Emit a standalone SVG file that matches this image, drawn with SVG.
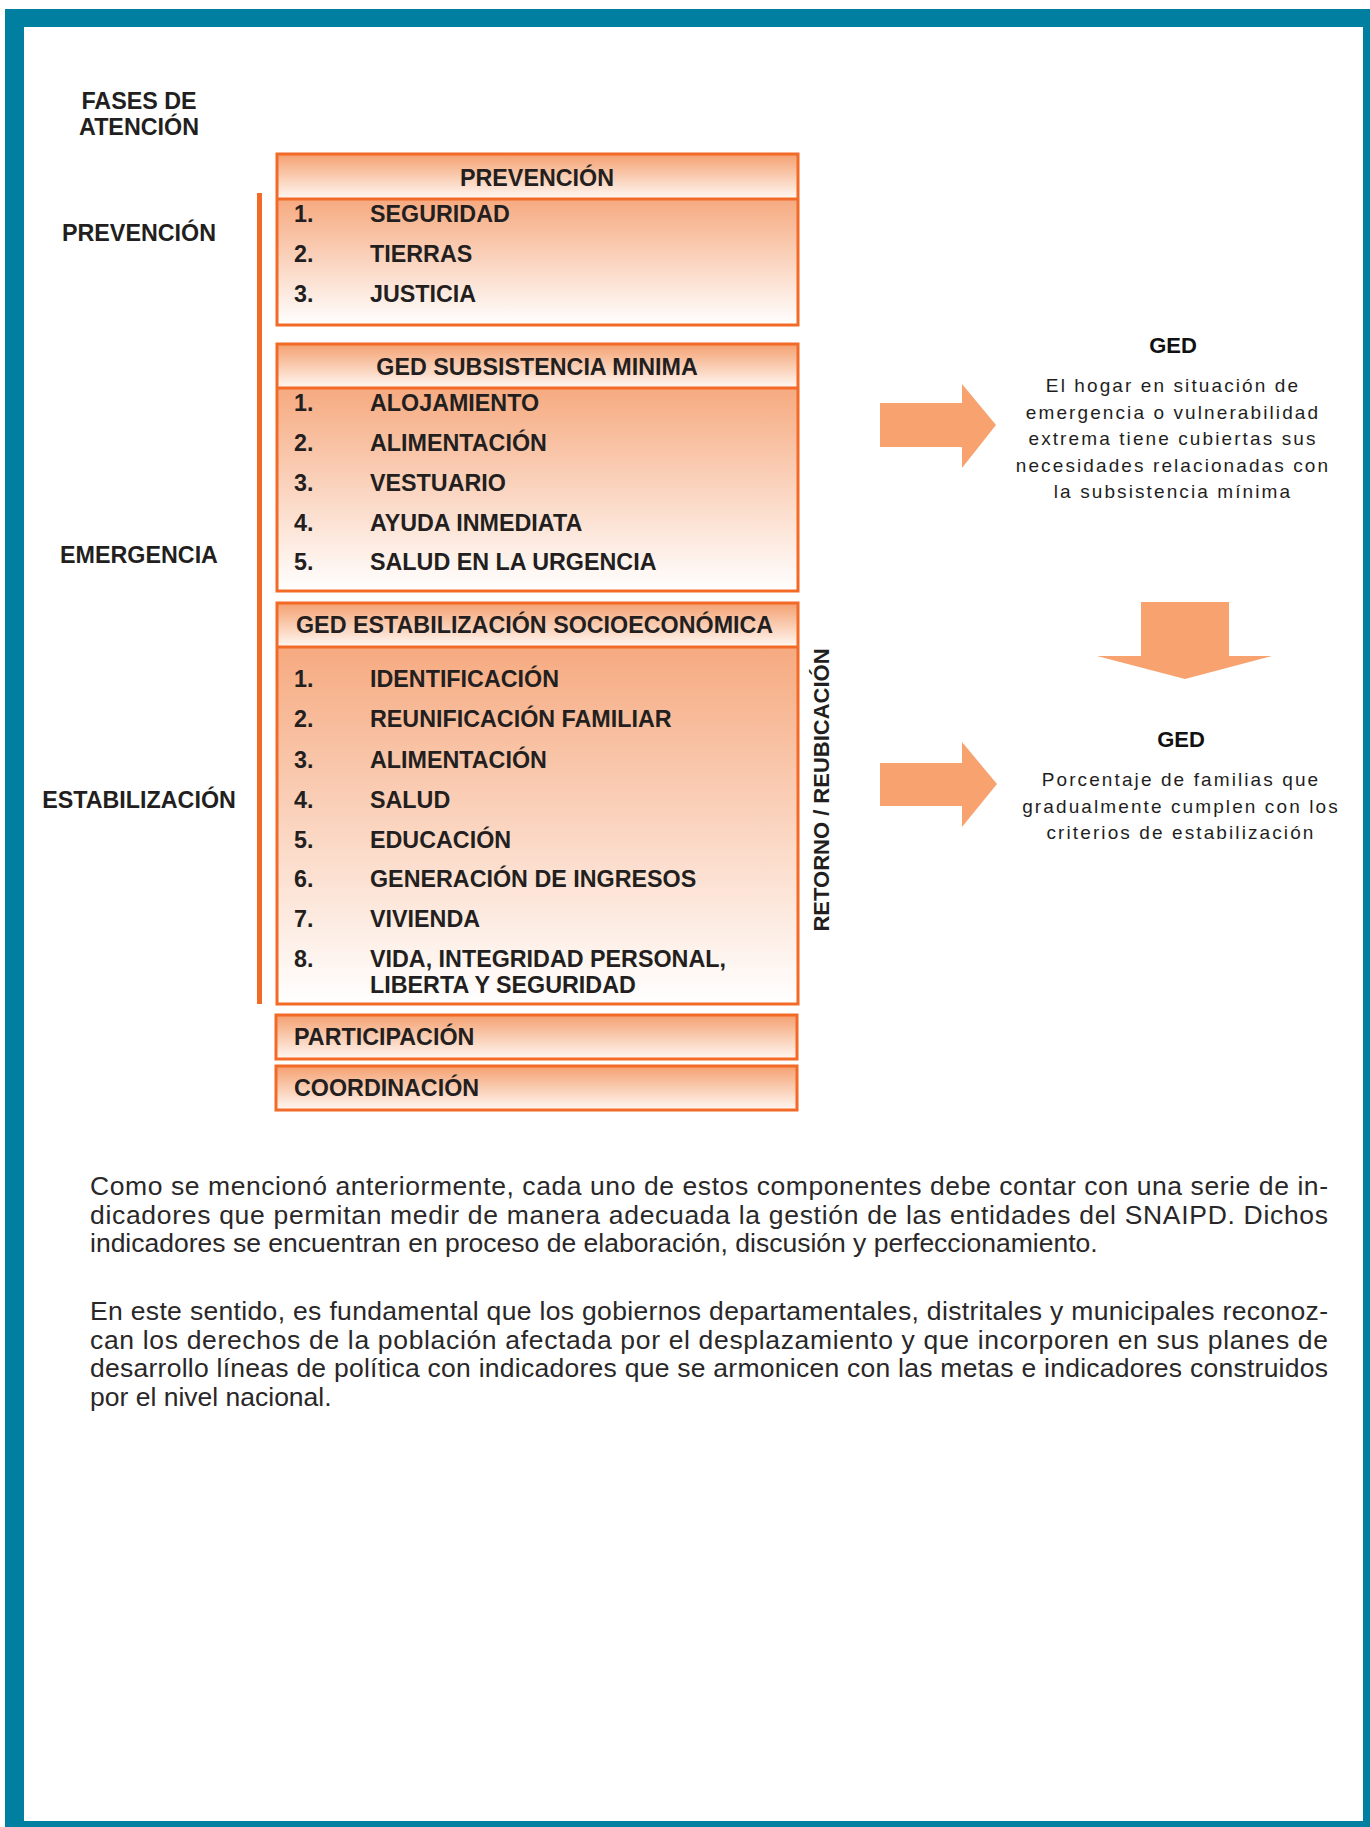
<svg xmlns="http://www.w3.org/2000/svg" width="1370" height="1827" viewBox="0 0 1370 1827">
<defs>
<linearGradient id="gh" x1="0" y1="0" x2="0" y2="1">
<stop offset="0" stop-color="#F4A070"/>
<stop offset="1" stop-color="#FFF8F3"/>
</linearGradient>
<linearGradient id="gi" x1="0" y1="0" x2="0" y2="1">
<stop offset="0" stop-color="#F6AA80"/>
<stop offset="1" stop-color="#FFFFFF"/>
</linearGradient>
<style>
.box{fill:none;stroke:#F26A26;stroke-width:3}
.div{stroke:#F26A26;stroke-width:3}
.b{font-family:"Liberation Sans",Arial,sans-serif;font-weight:bold;font-size:23.3px;fill:#231F20}
.hd{font-family:"Liberation Sans",Arial,sans-serif;font-weight:bold;font-size:22px;fill:#111}
.r{font-family:"Liberation Sans",Arial,sans-serif;font-size:19px;letter-spacing:2.1px;fill:#1E1E1E}
.p{font-family:"Liberation Sans",Arial,sans-serif;font-size:26.5px;fill:#2A2728}
.arr{fill:#F8A26F}
</style>
</defs>
<rect x="0" y="0" width="1370" height="1827" fill="#FFFFFF"/>
<rect x="5" y="9" width="1365" height="1818" fill="#017FA0"/>
<rect x="24" y="27" width="1339" height="1794" fill="#FFFFFF"/>

<g id="fases-label">
<text class="b" x="139" y="109" text-anchor="middle">FASES DE</text>
<text class="b" x="139" y="135" text-anchor="middle">ATENCIÓN</text>
</g>
<g id="phase-prevencion"><text class="b" x="139" y="241" text-anchor="middle">PREVENCIÓN</text></g>
<g id="phase-emergencia"><text class="b" x="139" y="563" text-anchor="middle">EMERGENCIA</text></g>
<g id="phase-estabilizacion"><text class="b" x="139" y="808" text-anchor="middle">ESTABILIZACIÓN</text></g>

<g id="phase-line"><rect x="257" y="193" width="5" height="811" fill="#F26A26"/></g>

<g id="box-prevencion">
<rect x="277" y="154" width="521" height="45" fill="url(#gh)"/>
<rect x="277" y="199" width="521" height="126" fill="url(#gi)"/>
<rect class="box" x="277" y="154" width="521" height="171"/>
<line class="div" x1="277" y1="199" x2="798" y2="199"/>
<text class="b" x="537" y="186" text-anchor="middle">PREVENCIÓN</text>
<text class="b" x="294" y="222">1.</text><text class="b" x="370" y="222">SEGURIDAD</text>
<text class="b" x="294" y="262">2.</text><text class="b" x="370" y="262">TIERRAS</text>
<text class="b" x="294" y="302">3.</text><text class="b" x="370" y="302">JUSTICIA</text>
</g>

<g id="box-subsistencia">
<rect x="277" y="344" width="521" height="44" fill="url(#gh)"/>
<rect x="277" y="388" width="521" height="203" fill="url(#gi)"/>
<rect class="box" x="277" y="344" width="521" height="247"/>
<line class="div" x1="277" y1="388" x2="798" y2="388"/>
<text class="b" x="537" y="375" text-anchor="middle">GED SUBSISTENCIA MINIMA</text>
<text class="b" x="294" y="411">1.</text><text class="b" x="370" y="411">ALOJAMIENTO</text>
<text class="b" x="294" y="451">2.</text><text class="b" x="370" y="451">ALIMENTACIÓN</text>
<text class="b" x="294" y="491">3.</text><text class="b" x="370" y="491">VESTUARIO</text>
<text class="b" x="294" y="531">4.</text><text class="b" x="370" y="531">AYUDA INMEDIATA</text>
<text class="b" x="294" y="570">5.</text><text class="b" x="370" y="570">SALUD EN LA URGENCIA</text>
</g>

<g id="box-estabilizacion">
<rect x="277" y="603" width="521" height="44" fill="url(#gh)"/>
<rect x="277" y="647" width="521" height="357" fill="url(#gi)"/>
<rect class="box" x="277" y="603" width="521" height="401"/>
<line class="div" x1="277" y1="647" x2="798" y2="647"/>
<text class="b" x="296" y="633">GED ESTABILIZACIÓN SOCIOECONÓMICA</text>
<text class="b" x="294" y="687">1.</text><text class="b" x="370" y="687">IDENTIFICACIÓN</text>
<text class="b" x="294" y="727">2.</text><text class="b" x="370" y="727">REUNIFICACIÓN FAMILIAR</text>
<text class="b" x="294" y="768">3.</text><text class="b" x="370" y="768">ALIMENTACIÓN</text>
<text class="b" x="294" y="808">4.</text><text class="b" x="370" y="808">SALUD</text>
<text class="b" x="294" y="848">5.</text><text class="b" x="370" y="848">EDUCACIÓN</text>
<text class="b" x="294" y="887">6.</text><text class="b" x="370" y="887">GENERACIÓN DE INGRESOS</text>
<text class="b" x="294" y="927">7.</text><text class="b" x="370" y="927">VIVIENDA</text>
<text class="b" x="294" y="967">8.</text><text class="b" x="370" y="967">VIDA, INTEGRIDAD PERSONAL,</text>
<text class="b" x="370" y="993">LIBERTA Y SEGURIDAD</text>
</g>

<g id="box-participacion">
<rect x="276" y="1015" width="521" height="44" fill="url(#gh)"/>
<rect class="box" x="276" y="1015" width="521" height="44"/>
<text class="b" x="294" y="1045">PARTICIPACIÓN</text>
</g>
<g id="box-coordinacion">
<rect x="276" y="1066" width="521" height="44" fill="url(#gh)"/>
<rect class="box" x="276" y="1066" width="521" height="44"/>
<text class="b" x="294" y="1096">COORDINACIÓN</text>
</g>

<g id="retorno-label">
<text class="b" transform="translate(829,790) rotate(-90)" text-anchor="middle" style="font-size:22px">RETORNO / REUBICACIÓN</text>
</g>

<g id="connectors">
<polygon class="arr" points="880,403 962,403 962,384 996,425 962,468 962,447 880,447"/>
<polygon class="arr" points="1141,602 1229,602 1229,656 1272,656 1185,679 1097,656 1141,656"/>
<polygon class="arr" points="880,763 962,763 962,742 997,784 962,827 962,806 880,806"/>
</g>

<g id="ged-1">
<text class="hd" x="1173" y="353" text-anchor="middle">GED</text>
<text class="r" x="1173" y="392" text-anchor="middle">El hogar en situación de</text>
<text class="r" x="1173" y="418.5" text-anchor="middle">emergencia o vulnerabilidad</text>
<text class="r" x="1173" y="445" text-anchor="middle">extrema tiene cubiertas sus</text>
<text class="r" x="1173" y="471.5" text-anchor="middle">necesidades relacionadas con</text>
<text class="r" x="1173" y="498" text-anchor="middle">la subsistencia mínima</text>
</g>
<g id="ged-2">
<text class="hd" x="1181" y="747" text-anchor="middle">GED</text>
<text class="r" x="1181" y="786" text-anchor="middle">Porcentaje de familias que</text>
<text class="r" x="1181" y="813" text-anchor="middle">gradualmente cumplen con los</text>
<text class="r" x="1181" y="839" text-anchor="middle">criterios de estabilización</text>
</g>

<g id="paragraphs">
<text class="p" x="90" y="1195" textLength="1238" lengthAdjust="spacing">Como se mencionó anteriormente, cada uno de estos componentes debe contar con una serie de in-</text>
<text class="p" x="90" y="1223.5" textLength="1238" lengthAdjust="spacing">dicadores que permitan medir de manera adecuada la gestión de las entidades del SNAIPD. Dichos</text>
<text class="p" x="90" y="1252">indicadores se encuentran en proceso de elaboración, discusión y perfeccionamiento.</text>
<text class="p" x="90" y="1320" textLength="1238" lengthAdjust="spacing">En este sentido, es fundamental que los gobiernos departamentales, distritales y municipales reconoz-</text>
<text class="p" x="90" y="1348.5" textLength="1238" lengthAdjust="spacing">can los derechos de la población afectada por el desplazamiento y que incorporen en sus planes de</text>
<text class="p" x="90" y="1377" textLength="1238" lengthAdjust="spacing">desarrollo líneas de política con indicadores que se armonicen con las metas e indicadores construidos</text>
<text class="p" x="90" y="1405.5">por el nivel nacional.</text>
</g>
</svg>
